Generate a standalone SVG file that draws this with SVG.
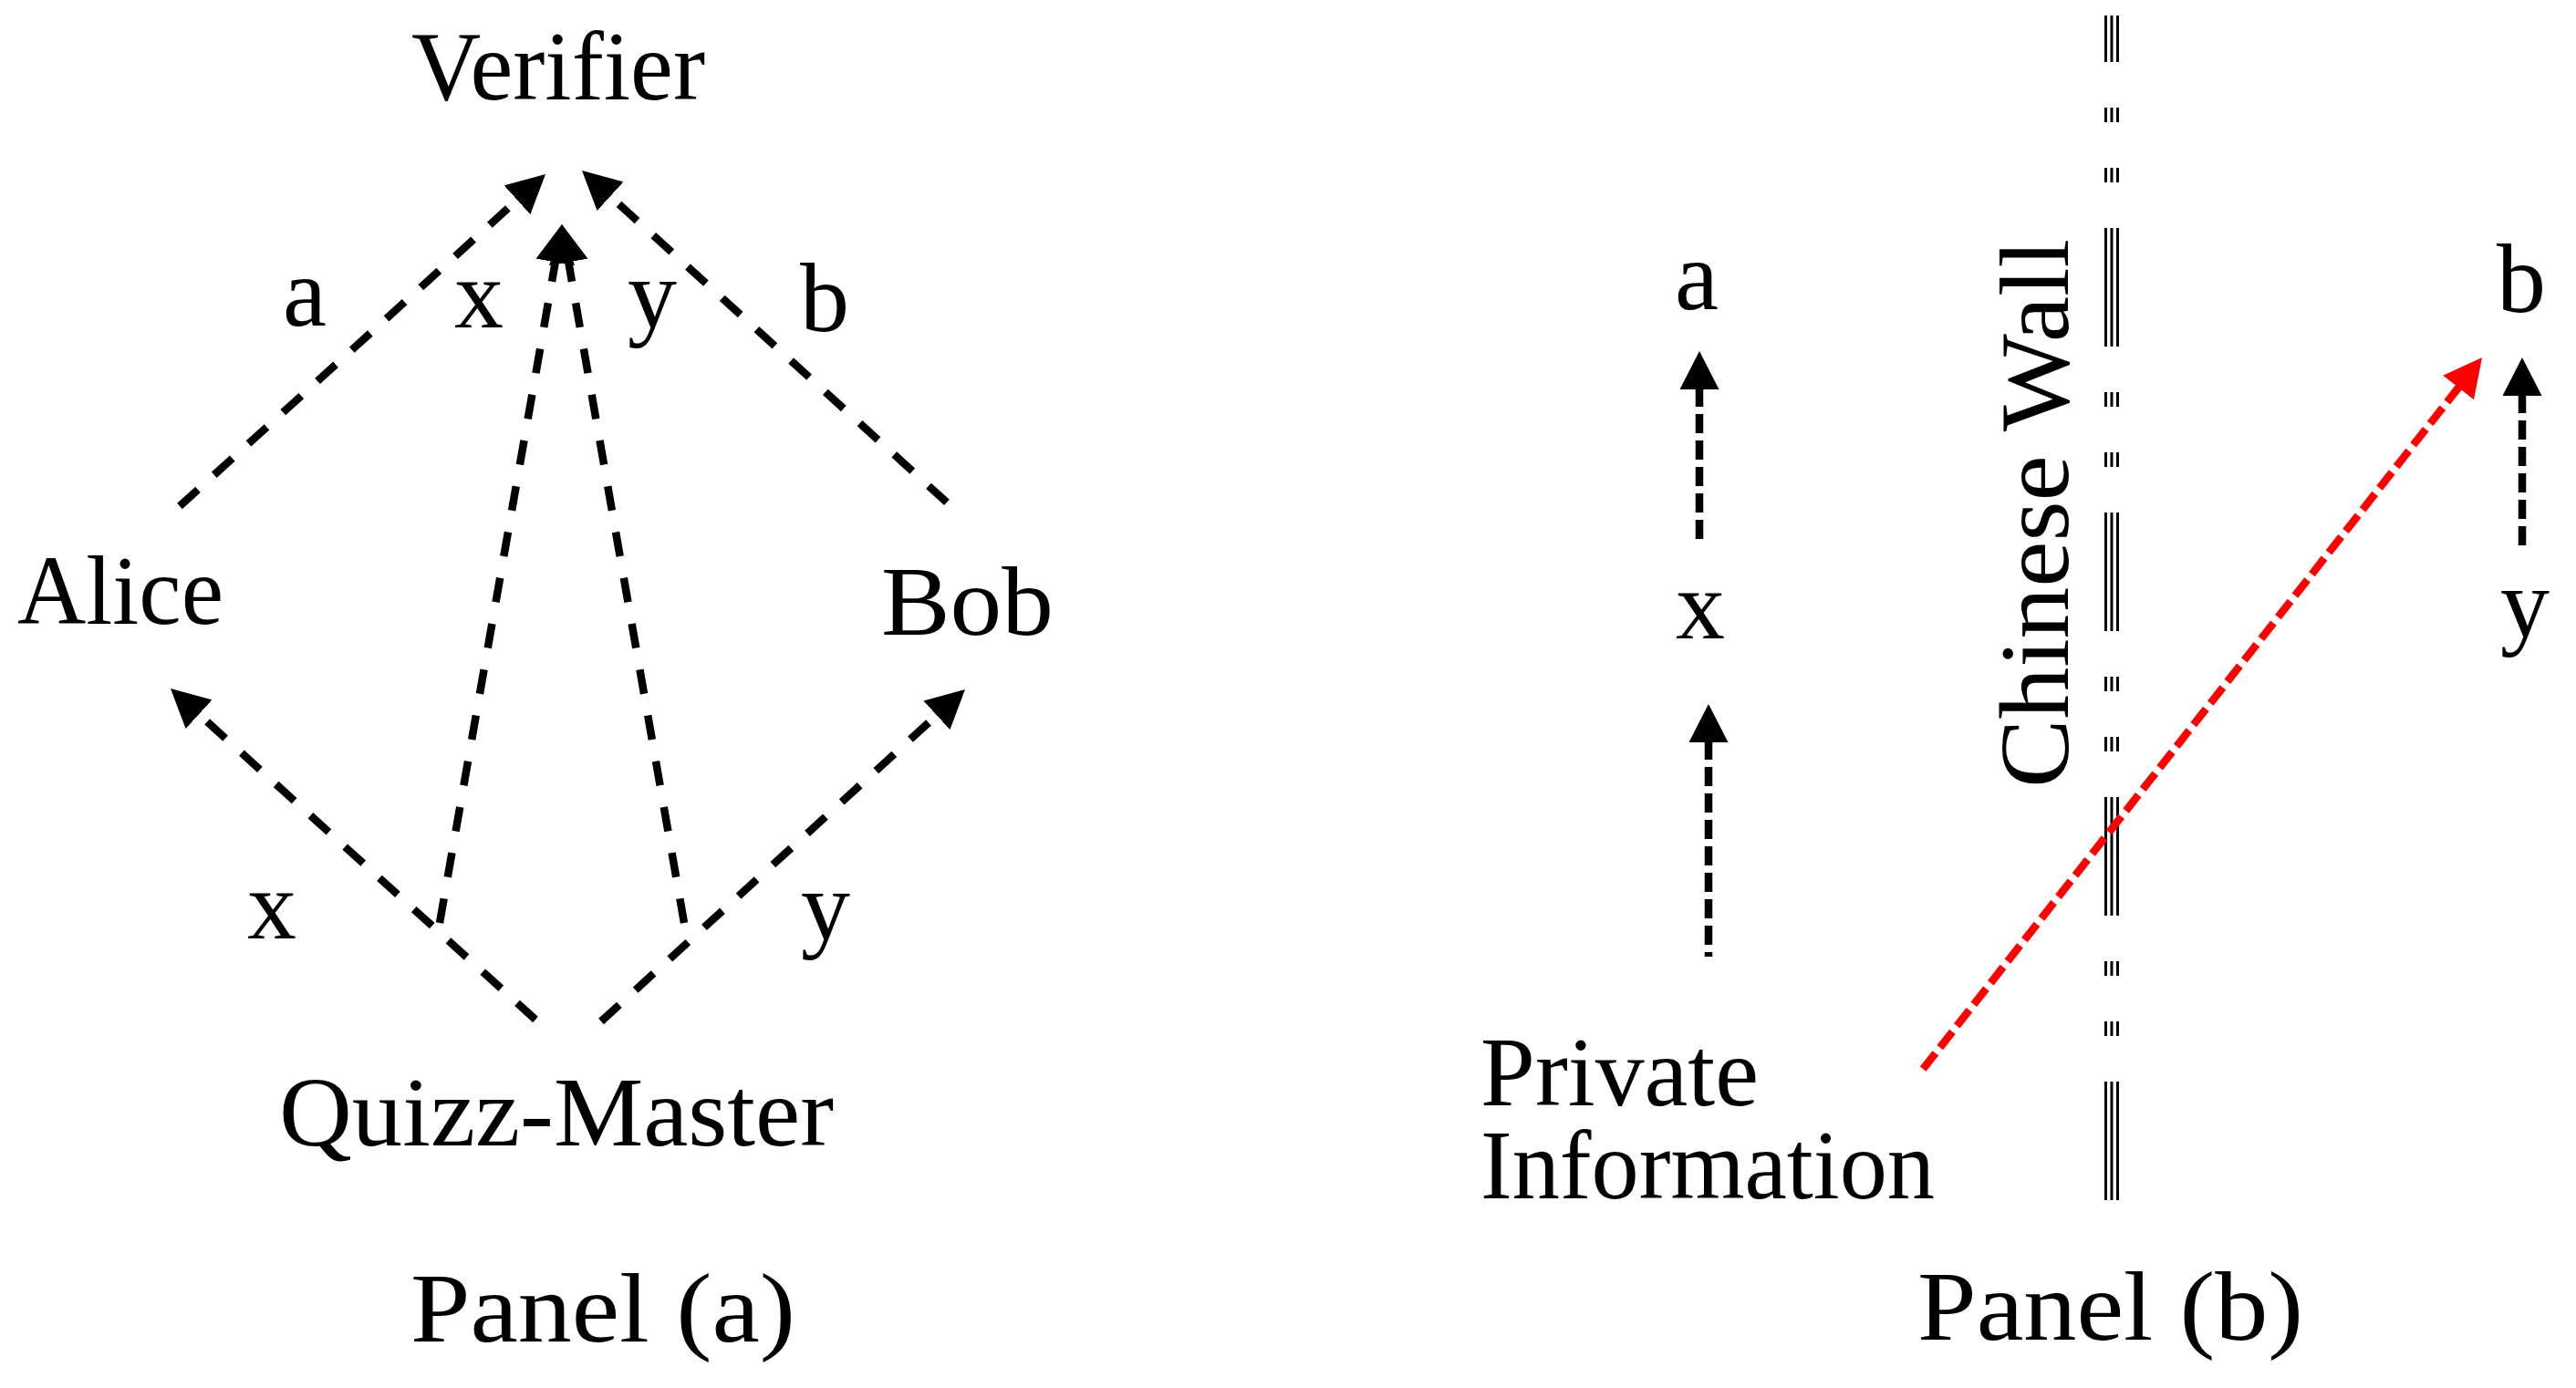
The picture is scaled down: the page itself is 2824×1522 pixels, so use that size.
<svg xmlns="http://www.w3.org/2000/svg" width="2824" height="1522" viewBox="0 0 2824 1522">
<style>
text{font-family:"Liberation Serif","Times New Roman",serif;font-size:108px;fill:#000}
.c{text-anchor:middle}
.da{fill:none;stroke:#000;stroke-width:8.5;stroke-dasharray:27 24}
.db{fill:none;stroke:#000;stroke-width:8.5;stroke-dasharray:21 8}
.dr{fill:none;stroke:#ff0000;stroke-width:8.5;stroke-dasharray:22 8}
.wall{fill:none;stroke:#000;stroke-width:3;stroke-dasharray:130 50 16 50 16 50;stroke-dashoffset:79}
</style>
<defs>
<marker id="ah" viewBox="0 0 42 43" refX="40" refY="21.5" markerWidth="42" markerHeight="43" markerUnits="userSpaceOnUse" orient="auto">
<path d="M0,21.5 L42,0 L42,43 Z" fill="#000"/>
</marker>
<marker id="ahr" viewBox="0 0 42 43" refX="40" refY="21.5" markerWidth="42" markerHeight="43" markerUnits="userSpaceOnUse" orient="auto">
<path d="M0,21.5 L42,0 L42,43 Z" fill="#ff0000"/>
</marker>
</defs>
<rect width="2824" height="1522" fill="#fff"/>

<g id="verifier"><text x="451" y="109" textLength="322" lengthAdjust="spacingAndGlyphs">Verifier</text></g>
<g id="alice"><text x="19" y="684" textLength="226" lengthAdjust="spacingAndGlyphs">Alice</text></g>
<g id="bob"><text x="966" y="696" textLength="189" lengthAdjust="spacingAndGlyphs">Bob</text></g>
<g id="quizz-master"><text x="306" y="1256" textLength="608" lengthAdjust="spacingAndGlyphs">Quizz-Master</text></g>
<g id="panel-a"><text x="450" y="1471" textLength="422" lengthAdjust="spacingAndGlyphs">Panel (a)</text></g>

<g id="node-b-a"><text class="c" x="1860" y="339">a</text></g>
<g id="node-b-x"><text class="c" x="1864" y="700">x</text></g>
<g id="node-b-b"><text class="c" x="2764" y="342">b</text></g>
<g id="node-b-y"><text class="c" x="2768" y="698">y</text></g>
<g id="private-information">
<text x="1623" y="1212" textLength="305" lengthAdjust="spacingAndGlyphs">Private</text>
<text x="1623" y="1314" textLength="498" lengthAdjust="spacingAndGlyphs">Information</text>
</g>
<g id="chinese-wall">
<path class="wall" d="M2308.5,17 V1316 M2315,17 V1316 M2321.5,17 V1316"/>
<text transform="translate(2267,864) rotate(-90)" x="0" y="0" textLength="602" lengthAdjust="spacingAndGlyphs">Chinese Wall</text>
</g>
<g id="panel-b"><text x="2102" y="1469" textLength="423" lengthAdjust="spacingAndGlyphs">Panel (b)</text></g>

<g id="connectors">
<path class="da" style="stroke-dashoffset:35.4" d="M568.4,217.9 L197,555" marker-start="url(#ah)"/>
<path class="da" style="stroke-dashoffset:36.2" d="M667.6,213.9 L1038,551" marker-start="url(#ah)"/>
<path class="da" style="stroke-dashoffset:3.4" d="M609.1,285.4 L482,1012" marker-start="url(#ah)"/>
<path class="da" style="stroke-dashoffset:3.4" d="M622.9,285.4 L750,1012" marker-start="url(#ah)"/>
<path class="da" style="stroke-dashoffset:36.8" d="M216.6,781.9 L587,1118" marker-start="url(#ah)"/>
<path class="da" style="stroke-dashoffset:36.9" d="M1028.4,783 L659,1120" marker-start="url(#ah)"/>
<text class="c" x="334" y="357">a</text>
<text class="c" x="525" y="359">x</text>
<text class="c" x="715" y="359">y</text>
<text class="c" x="904" y="363">b</text>
<text class="c" x="298" y="1029">x</text>
<text class="c" x="905" y="1030">y</text>

<path class="db" d="M1863,425 V596" marker-start="url(#ah)"/>
<path class="db" d="M1873,812 V1049" marker-start="url(#ah)"/>
<path class="db" d="M2765,432 V603" marker-start="url(#ah)"/>
<path class="dr" d="M2696.3,423.5 L2106,1175" marker-start="url(#ahr)"/>
</g>
</svg>
